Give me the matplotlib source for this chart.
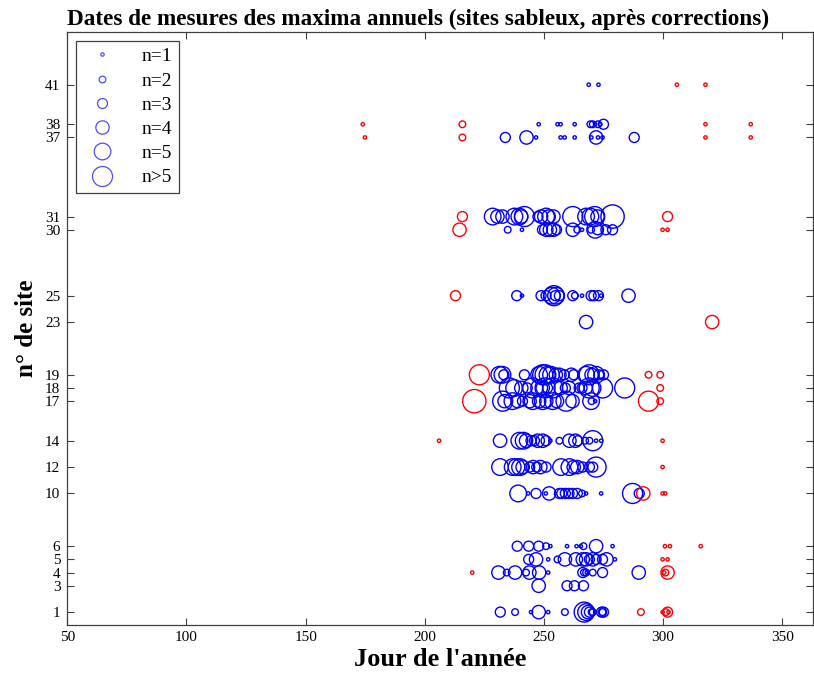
import numpy as np
import matplotlib
matplotlib.use("Agg")
import matplotlib.pyplot as plt
from matplotlib.lines import Line2D

plt.rcParams['font.family'] = ['Liberation Serif', 'DejaVu Serif']

# sites (y) and tick labels
site_ticks = [1, 3, 4, 5, 6, 10, 12, 14, 17, 18, 19, 23, 25, 30, 31, 37, 38, 41]
day_ticks = [50, 100, 150, 200, 250, 300, 350]

# blue points: site, day, n (number of maxima)
blue_site = ([41] * 2 + [38] * 10 + [37] * 11 + [31] * 18 + [30] * 15 + [25] * 17
             + [23] * 1 + [19] * 20 + [18] * 20 + [17] * 17 + [14] * 19 + [12] * 18
             + [10] * 16 + [6] * 11 + [5] * 14 + [4] * 14 + [3] * 4 + [1] * 16)
blue_day = [
    268.8, 272.9,
    247.8, 255.7, 257.0, 262.9, 269.5, 270.5, 271.5, 272.7, 273.7, 275.0,
    233.8, 242.7, 246.7, 257.0, 258.7, 262.9, 269.9, 271.9, 272.7, 274.6, 287.9,
    228.5, 230.5, 232.6, 237.6, 239.7, 241.8, 240.5, 247.5, 248.8, 250.9, 252.0, 254.0,
    262.1, 267.7, 269.5, 271.3, 272.5, 278.8,
    234.8, 240.8, 249.4, 251.0, 252.5, 254.0, 255.3, 262.1, 264.0, 266.0, 269.8, 271.5,
    272.5, 276.0, 278.8,
    238.6, 240.8, 248.8, 250.9, 253.3, 254.2, 255.1, 254.8, 256.5, 262.1, 263.0, 266.0,
    269.8, 271.0, 272.9, 274.0, 285.5,
    267.7,
    231.3, 232.6, 233.2, 241.8, 248.0, 249.5, 250.5, 251.5, 253.0, 255.0, 256.5, 258.5,
    261.5, 262.5, 267.7, 269.0, 270.0, 271.9, 273.0, 275.0,
    235.5, 237.5, 240.5, 243.0, 245.3, 248.0, 249.5, 250.5, 251.5, 253.7, 257.0, 259.0,
    260.5, 264.8, 266.0, 267.5, 269.0, 270.4, 274.6, 283.9,
    232.7, 233.5, 236.8, 239.0, 241.0, 244.0, 245.3, 248.0, 249.5, 251.0, 253.7, 255.5,
    259.3, 262.0, 269.8, 270.0, 271.5,
    231.6, 239.7, 241.5, 242.5, 244.6, 246.0, 247.4, 249.5, 250.9, 252.7, 256.5, 260.7,
    263.2, 264.2, 267.3, 269.1, 270.5, 271.9, 274.0,
    231.6, 236.9, 238.5, 240.0, 241.1, 244.0, 245.5, 247.0, 248.5, 250.9, 257.2, 260.7,
    262.5, 264.0, 266.3, 269.1, 270.5, 271.9,
    239.2, 243.4, 246.7, 250.8, 252.2, 256.5, 257.5, 259.0, 260.5, 262.0, 264.0, 266.0,
    267.7, 274.0, 287.2, 290.0,
    238.8, 243.6, 247.8, 250.9, 252.7, 259.7, 263.7, 265.5, 266.6, 271.9, 278.8,
    243.6, 246.7, 251.8, 255.7, 258.8, 263.4, 266.3, 267.7, 269.1, 270.5, 271.9, 274.6,
    276.3, 279.8,
    230.9, 234.4, 237.9, 242.5, 243.9, 248.0, 251.8, 266.3, 266.8, 267.7, 268.0, 270.5,
    274.6, 289.8,
    247.8, 259.7, 262.8, 266.6,
    231.7, 237.9, 244.6, 247.8, 251.8, 258.8, 266.9, 267.7, 268.5, 269.1, 270.0, 270.5,
    271.5, 274.2, 274.6, 275.0,
]
blue_n = [
    1, 1,
    1, 1, 1, 1, 2, 2, 1, 2, 1, 3,
    3, 4, 1, 1, 1, 1, 1, 4, 1, 1, 3,
    5, 4, 4, 5, 5, 6, 4, 3, 4, 5, 4, 4, 6, 5, 5, 6, 4, 7,
    2, 1, 3, 4, 4, 4, 3, 4, 2, 1, 2, 5, 3, 3, 3,
    3, 1, 3, 3, 5, 6, 5, 3, 3, 3, 2, 1, 3, 3, 3, 1, 4,
    4,
    5, 5, 3, 3, 5, 6, 6, 5, 5, 4, 4, 3, 4, 3, 5, 6, 4, 5, 3, 3,
    6, 5, 4, 3, 6, 5, 4, 6, 3, 6, 4, 3, 4, 3, 3, 4, 6, 5, 6, 6,
    6, 4, 5, 4, 3, 4, 5, 4, 5, 4, 5, 4, 6, 4, 5, 2, 1,
    4, 5, 5, 4, 3, 3, 4, 4, 3, 1, 2, 4, 4, 3, 2, 2, 6, 1, 1,
    5, 5, 5, 5, 4, 3, 4, 3, 4, 3, 5, 5, 4, 4, 3, 3, 3, 6,
    5, 1, 3, 1, 4, 3, 3, 3, 3, 3, 3, 2, 1, 1, 6, 3,
    3, 3, 3, 2, 1, 1, 1, 1, 2, 4, 1,
    3, 4, 1, 2, 4, 4, 4, 4, 3, 4, 3, 3, 4, 1,
    4, 2, 4, 2, 4, 4, 1, 3, 2, 2, 1, 2, 3, 4,
    4, 3, 3, 3,
    3, 2, 1, 4, 1, 2, 6, 5, 4, 3, 2, 2, 1, 3, 2, 3,
]

# red points (corrected dates): site, day, n
red_site = [41, 41, 38, 38, 38, 38, 37, 37, 37, 37, 31, 31, 30, 30, 30, 25, 23,
            19, 19, 19, 18, 17, 17, 17, 14, 14, 12, 10, 10, 10, 6, 6, 6, 5, 5,
            4, 4, 4, 4, 1, 1, 1, 1, 1]
red_day = [305.8, 317.8, 174.0, 215.8, 317.8, 336.8, 174.9, 215.8, 317.8, 336.8,
           215.8, 301.9, 214.6, 299.8, 301.9, 212.9, 320.6,
           222.9, 293.9, 298.8, 298.8, 220.8, 293.9, 298.8, 206.0, 299.8, 299.8,
           291.7, 299.8, 300.9, 300.8, 302.9, 315.8, 299.8, 301.9,
           219.9, 300.5, 301.0, 301.9, 290.7, 299.8, 301.2, 301.9, 302.3]
red_n = [1, 1, 1, 2, 1, 1, 1, 2, 1, 1, 3, 3, 4, 1, 1, 3, 4,
         6, 2, 2, 2, 7, 6, 2, 1, 1, 1, 4, 1, 1, 1, 1, 1, 1, 1,
         1, 1, 2, 4, 2, 1, 2, 3, 1]

legend_labels = ['n=1', 'n=2', 'n=3', 'n=4', 'n=5', 'n>5']


def msize(n):
    # marker diameter in points grows with n
    return 2.4 * np.asarray(n, dtype=float)


fig = plt.figure(figsize=(8.14, 6.76), dpi=100)
ax = fig.add_axes([0.0827, 0.075, 0.9163, 0.8777])

ax.scatter(blue_day, blue_site, s=msize(blue_n) ** 2, facecolors='none',
           edgecolors='#0000ff', linewidths=1.0)
ax.scatter(red_day, red_site, s=msize(red_n) ** 2, facecolors='none',
           edgecolors='#ff0000', linewidths=1.0)

ax.set_xlim(50, 363)
ax.set_ylim(0, 45)
ax.set_xticks(day_ticks)
ax.set_yticks(site_ticks)
ax.tick_params(direction='in', top=True, right=True, length=5, width=0.8,
               color='#404040', labelsize=11)
ax.tick_params(axis='x', pad=4)
ax.tick_params(axis='y', pad=5)
for sp in ax.spines.values():
    sp.set_color('#404040')
    sp.set_linewidth(0.9)

ax.set_xlabel("Jour de l'année", fontsize=19, fontweight='bold', labelpad=3)
ax.set_ylabel("n° de site", fontsize=18, fontweight='bold', labelpad=5)
ax.set_title("Dates de mesures des maxima annuels (sites sableux, après corrections)",
             loc='left', fontsize=16.7, fontweight='bold', pad=5)

handles = [Line2D([], [], marker='o', ls='none', mfc='none', mec='#4d4dff',
                  mew=0.9, ms=msize(k)) for k in range(1, 7)]
leg = ax.legend(handles, legend_labels, loc='upper left',
                bbox_to_anchor=(0.0117, 0.985), borderaxespad=0,
                fontsize=14, fancybox=False, edgecolor='#404040',
                framealpha=1, labelspacing=0.34, handletextpad=1.0,
                borderpad=0.35, handlelength=2.0)
leg.get_frame().set_linewidth(0.9)

plt.savefig('out.png', dpi=100)
